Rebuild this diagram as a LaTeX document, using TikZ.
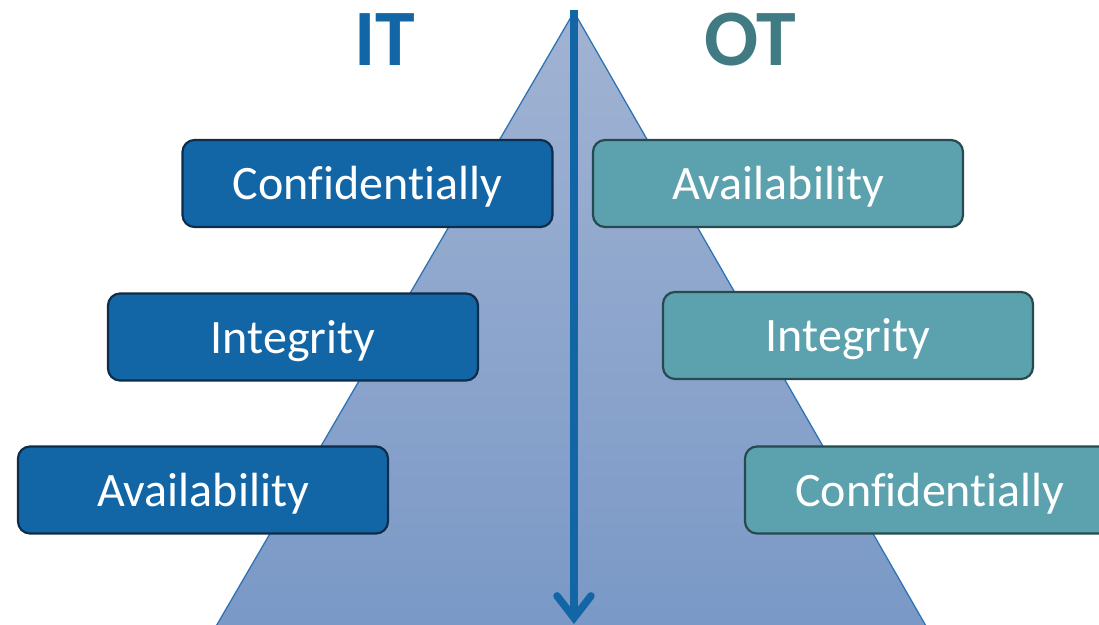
\documentclass[tikz,border=0pt]{standalone}
\usepackage{fontspec}
\setmainfont{Carlito}[Ligatures=NoCommon]
\usetikzlibrary{arrows.meta}
\definecolor{itblue}{RGB}{19,102,166}
\definecolor{itedge}{RGB}{14,45,74}
\definecolor{otteal}{RGB}{91,162,174}
\definecolor{otedge}{RGB}{38,74,80}
\definecolor{ottitle}{RGB}{64,122,130}
\definecolor{pyrtop}{RGB}{161,179,211}
\definecolor{pyrbot}{RGB}{121,152,198}
\definecolor{pyredge}{RGB}{46,116,181}

\begin{document}
\begin{tikzpicture}[x=1pt,y=-1pt,line cap=round,line join=round,
  itbox/.style={draw=itedge,fill=itblue,line width=2.2pt,rounded corners=12pt,minimum width=370pt,minimum height=87pt,text height=42pt,text depth=10pt,text=white,font=\fontsize{48}{54}\selectfont},
  otbox/.style={itbox,draw=otedge,fill=otteal}]
\useasboundingbox (0,0) rectangle (1099,624);
\clip (0,0) rectangle (1099,624);
\coordinate (apex) at (574,12);
\coordinate (baseL) at (208,640);
\coordinate (baseR) at (934,640);
\coordinate (top) at (574,10);
\coordinate (tip) at (574,624);
% pyramid behind everything
\shade[top color=pyrtop,bottom color=pyrbot] (apex) -- (baseL) -- (baseR) -- cycle;
\draw[pyredge,line width=1.3pt] (baseL) -- (apex) -- (baseR);
\draw[itblue,line width=7.5pt,line cap=butt,-{Straight Barb[length=22pt,width=34pt,line cap=round]}] (top) -- (tip);
\node[text=itblue,font=\fontsize{80}{90}\selectfont\bfseries] (it) at (385,40) {IT};
\node[text=ottitle,font=\fontsize{80}{90}\selectfont\bfseries] (ot) at (750,40) {OT};
% IT side
\node[itbox] (itconf) at (367.5,183.5) {Confidentially};
\node[itbox] (itinteg) at (293,337) {Integrity};
\node[itbox] (itavail) at (203,490) {Availability};
% OT side
\node[otbox] (otavail) at (778,183.5) {Availability};
\node[otbox] (otinteg) at (848,335.5) {Integrity};
\node[otbox] (otconf) at (930,490) {Confidentially};
\end{tikzpicture}
\end{document}
